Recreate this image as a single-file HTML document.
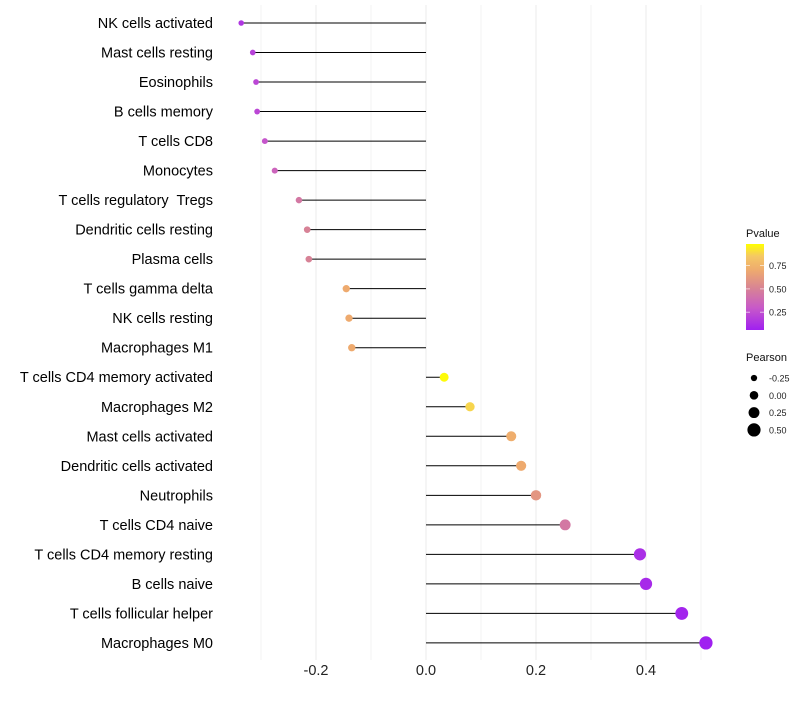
<!DOCTYPE html>
<html><head><meta charset="utf-8"><style>
body{margin:0;background:#fff;font-family:"Liberation Sans",sans-serif}
svg text{font-family:"Liberation Sans",sans-serif;white-space:pre}
</style></head><body>
<svg id="c" width="800" height="700"></svg>
<script>
const categories=["NK cells activated","Mast cells resting","Eosinophils","B cells memory","T cells CD8","Monocytes","T cells regulatory  Tregs","Dendritic cells resting","Plasma cells","T cells gamma delta","NK cells resting","Macrophages M1","T cells CD4 memory activated","Macrophages M2","Mast cells activated","Dendritic cells activated","Neutrophils","T cells CD4 naive","T cells CD4 memory resting","B cells naive","T cells follicular helper","Macrophages M0"];
const pearson=[-0.336,-0.315,-0.309,-0.307,-0.293,-0.275,-0.231,-0.216,-0.213,-0.145,-0.14,-0.135,0.033,0.08,0.155,0.173,0.2,0.253,0.389,0.4,0.465,0.509];
const pvalues=[0.15,0.2,0.22,0.22,0.28,0.35,0.45,0.5,0.5,0.7,0.7,0.7,0.97,0.88,0.72,0.7,0.6,0.45,0.12,0.1,0.08,0.06];
const xTicks=[-0.2,0,0.2,0.4];
const xTickLabels=["-0.2","0.0","0.2","0.4"];
const legP=[0.75,0.5,0.25];
const legSizes=[-0.25,0,0.25,0.5];
const legSizeLabels=["-0.25","0.00","0.25","0.50"];

const NS="http://www.w3.org/2000/svg";
const svg=document.getElementById('c');
const x=v=>426+v*550;
const y=i=>23+i*29.52;
const r=p=>4.3+4.6*p;
const stops=[[0.06,[160,32,240]],[0.3,[200,90,200]],[0.5,[215,130,150]],[0.7,[238,170,110]],[0.85,[245,200,100]],[0.98,[255,255,0]]];
function col(p){if(p<=stops[0][0])return`rgb(${stops[0][1]})`;for(let k=1;k<stops.length;k++){if(p<=stops[k][0]){const a=stops[k-1],b=stops[k],t=(p-a[0])/(b[0]-a[0]);return`rgb(${a[1].map((c,j)=>Math.round(c+(b[1][j]-c)*t))})`;}}return`rgb(${stops[stops.length-1][1]})`;}
function el(t,a,txt){const e=document.createElementNS(NS,t);for(const k in a)e.setAttribute(k,a[k]);if(txt!==undefined)e.textContent=txt;svg.appendChild(e);return e;}
for(let v=-0.3;v<=0.51;v+=0.1){const g=el('line',{x1:x(v),x2:x(v),y1:5,y2:660,stroke:'#ebebeb','stroke-width':Math.abs(Math.round(v*10))%2===0?1:0.6});

}
xTicks.forEach((v,i)=>{const t=el('text',{x:x(v),y:675,'text-anchor':'middle','font-size':14.5,fill:'#222'},xTickLabels[i]);

});
categories.forEach((c,i)=>{
const t=el('text',{x:213,y:y(i)+5,'text-anchor':'end','font-size':14.5,fill:'#000','xml:space':'preserve'},c);


const l=el('line',{x1:x(0),x2:x(pearson[i]),y1:y(i),y2:y(i),stroke:'#000','stroke-width':1});


const d=el('circle',{cx:x(pearson[i]),cy:y(i),r:r(pearson[i]),fill:col(pvalues[i])});


});
const defs=el('defs',{});const lg=document.createElementNS(NS,'linearGradient');lg.setAttribute('id','g');lg.setAttribute('x1','0');lg.setAttribute('y1','1');lg.setAttribute('x2','0');lg.setAttribute('y2','0');defs.appendChild(lg);
const p0=0.06,p1=0.98,yb=330,yt=244,py=p=>yb-(p-p0)/(p1-p0)*(yb-yt);
stops.forEach(s=>{const st=document.createElementNS(NS,'stop');st.setAttribute('offset',(s[0]-p0)/(p1-p0));st.setAttribute('stop-color',`rgb(${s[1]})`);lg.appendChild(st);});
let t=el('text',{x:746,y:237,'font-size':11,fill:'#111'},'Pvalue');


const cb=el('rect',{x:746,y:yt,width:18,height:yb-yt,fill:'url(#g)'});


legP.forEach(p=>{el('line',{x1:746,x2:750,y1:py(p),y2:py(p),stroke:'#fff','stroke-opacity':0.6});el('line',{x1:760,x2:764,y1:py(p),y2:py(p),stroke:'#fff','stroke-opacity':0.6});
const tt=el('text',{x:769,y:py(p)+3.5,'font-size':9,fill:'#222'},p.toFixed(2));

});
t=el('text',{x:746,y:361,'font-size':11,fill:'#111'},'Pearson');


legSizes.forEach((s,i)=>{const cy=378+i*17.3;
const c=el('circle',{cx:754,cy:cy,r:r(s),fill:'#000'});


const tt=el('text',{x:769,y:cy+3.5,'font-size':9,fill:'#222'},legSizeLabels[i]);

});
</script>
</body></html>
